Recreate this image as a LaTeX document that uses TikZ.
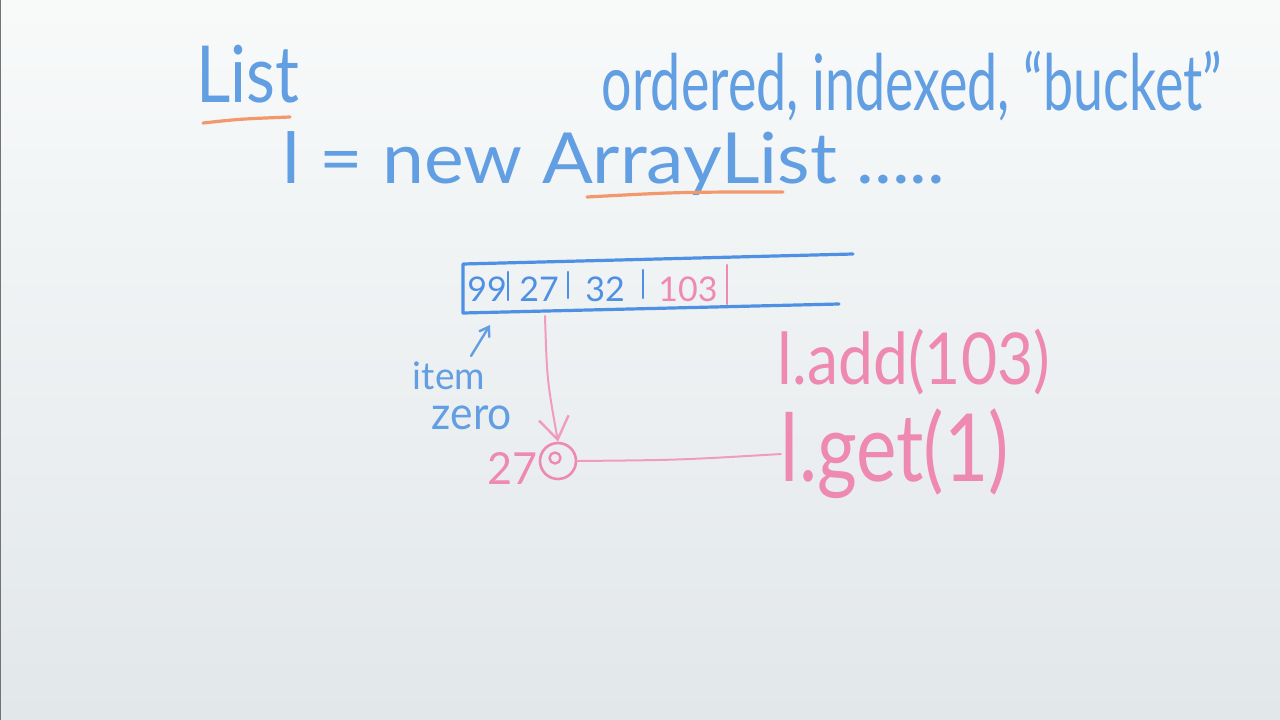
\documentclass[tikz,border=0pt]{standalone}
\usepackage{fontspec}
\setmainfont{Lato}
\usetikzlibrary{arrows.meta,calc}
\definecolor{inkblue}{RGB}{98,158,226}
\definecolor{boxblue}{RGB}{78,145,228}
\definecolor{inkpink}{RGB}{238,138,178}
\definecolor{inkorange}{RGB}{242,152,108}
\definecolor{boardlight}{RGB}{248,250,250}
\definecolor{boarddark}{RGB}{226,231,234}
\newcommand{\fitbox}[3]{\resizebox*{#1}{#2}{#3}}
\tikzset{
  words/.style={inner sep=0pt, outer sep=0pt},
  bluetext/.style={words, text=inkblue},
  pinktext/.style={words, text=inkpink},
  cell/.style={words, text=boxblue, font=\fontsize{34}{36}\selectfont},
  stroke/.style={line width=3.2pt, line cap=round, line join=round},
  underline/.style={stroke, draw=inkorange},
}
\begin{document}
\begin{tikzpicture}[x=1pt,y=-1pt]
\useasboundingbox (0,0) rectangle (1280,720);
% whiteboard surface, lighter towards the top
\shade[top color=boardlight, bottom color=boarddark] (0,0) rectangle (1280,720);
\draw[line width=2pt, draw=black!55] (0,0) -- (0,720);

% heading and notes
\node[bluetext] (title) at (248,74) {\fitbox{103pt}{58pt}{List}};
\draw[underline] (203,123) .. controls (240,119) .. (290,117);
\node[bluetext] (props) at (912,86) {\fitbox{620pt}{70pt}{ordered, indexed, “bucket”}};
\node[bluetext] (decl) at (614,164) {\fitbox{662pt}{64pt}{l = new ArrayList .....}};
\draw[underline] (587,197) .. controls (680,192) .. (783,192);

% the array
\draw[stroke, draw=boxblue] (853,254) -- (463,264) -- (463,313) -- (839,304);
\foreach \x/\ya/\yb in {508/272/300, 568/272/298, 643/270/298}
  \draw[line width=2.4pt, draw=boxblue, line cap=round] (\x,\ya) -- (\x,\yb);
\draw[line width=2.4pt, draw=inkpink, line cap=round] (727,265) -- (727,304);
\node[cell] (c0) at (487,289) {99};
\node[cell] (c1) at (539,289) {27};
\node[cell] (c2) at (605,289) {32};
\node[cell, text=inkpink] (c3) at (688,289) {103};
\coordinate (corner) at (490,325);
\coordinate (pick) at (545,316);

% item zero label
\node[bluetext] (item) at (449,376) {\fitbox{72pt}{28pt}{item}};
\node[bluetext] (zero) at (472,418) {\fitbox{80pt}{24pt}{zero}};
\draw[line width=2.4pt, draw=inkblue, line cap=round, -{Straight Barb[length=9pt,width=12pt,line width=2.4pt]}]
  ($(item.north)+(22,-6)$) -- (corner);

% element lookup
\node[draw=inkpink, line width=2.6pt, circle, minimum size=36pt, inner sep=0pt] (hit) at (558,461) {};
\node[draw=inkpink, line width=2.4pt, circle, minimum size=11pt, inner sep=0pt] (dot) at (555,458) {};
\node[pinktext] (found) at (512,468) {\fitbox{50pt}{32pt}{27}};
\draw[line width=2pt, draw=inkpink!85, line cap=round,
      -{Straight Barb[length=22pt,width=30pt,line width=2.4pt]}]
  (pick) .. controls (547,380) .. (hit.north);

% method calls
\node[pinktext] (add) at (914,362) {\fitbox{272pt}{66pt}{l.add(103)}};
\node[pinktext] (get) at (895,454) {\fitbox{228pt}{90pt}{l.get(1)}};
\draw[line width=2pt, draw=inkpink!85, line cap=round] (hit.east) .. controls (680,460) .. (get.west);
\end{tikzpicture}
\end{document}
